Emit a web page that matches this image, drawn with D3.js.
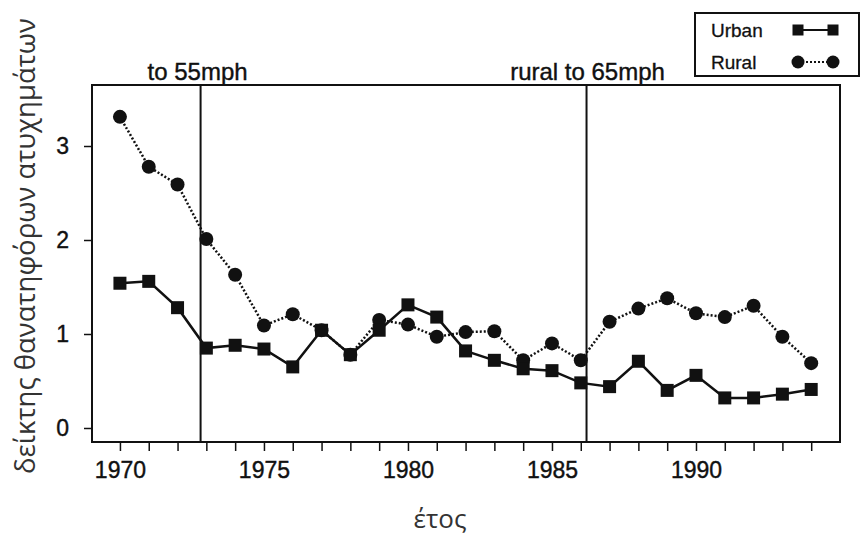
<!DOCTYPE html>
<html>
<head>
<meta charset="utf-8">
<script src="https://cdnjs.cloudflare.com/ajax/libs/d3/7.8.5/d3.min.js"></script>
<style>
  html, body { margin: 0; padding: 0; background: #fff; }
  svg { display: block; }
</style>
</head>
<body>
<svg id="chart" width="861" height="536"></svg>
<script>
const years = [1970,1971,1972,1973,1974,1975,1976,1977,1978,1979,1980,1981,1982,1983,1984,1985,1986,1987,1988,1989,1990,1991,1992,1993,1994];
const urban = [1.54,1.56,1.28,0.85,0.88,0.84,0.65,1.04,0.78,1.04,1.31,1.18,0.82,0.72,0.63,0.61,0.48,0.44,0.71,0.40,0.56,0.32,0.32,0.36,0.41];
const rural = [3.31,2.78,2.59,2.01,1.63,1.09,1.21,1.04,0.78,1.15,1.10,0.97,1.02,1.03,0.72,0.90,0.72,1.13,1.27,1.38,1.22,1.18,1.30,0.97,0.69];
const yTicks = [0,1,2,3];
const xTickLabels = [1970,1975,1980,1985,1990];
const interventions = [{year:1972.8, label:"to 55mph"},{year:1986.2, label:"rural to 65mph"}];
const seriesNames = ["Urban","Rural"];
const xTitle = "έτος";
const yTitle = "δείκτης θανατηφόρων ατυχημάτων";

const svg = d3.select("#chart");
const pLeft = 92, pRight = 840, pTop = 85, pBottom = 442;
const x = d3.scaleLinear().domain([1969.03, 1995.0]).range([pLeft, pRight]);
const y = d3.scaleLinear().domain([-0.149, 3.649]).range([pBottom, pTop]);
const font = "'Liberation Sans', Arial, sans-serif";

// Frame
svg.append("rect").attr("x", pLeft).attr("y", pTop).attr("width", pRight-pLeft).attr("height", pBottom-pTop)
  .attr("fill","none").attr("stroke","#111").attr("stroke-width",2);

// X axis (minor ticks every year, labels every 5)
const xAxis = d3.axisBottom(x).tickValues(years).tickSize(9).tickPadding(11)
  .tickFormat(d => xTickLabels.includes(d) ? String(d) : "");
const gx = svg.append("g").attr("transform", `translate(0,${pBottom})`).call(xAxis);
gx.select(".domain").remove();
gx.selectAll(".tick line").attr("stroke","#111").attr("stroke-width",1.5);
gx.selectAll(".tick text").attr("font-family",font).attr("font-size",23).attr("fill","#111")
  .attr("stroke","#111").attr("stroke-width",0.4);

// Y axis
const yAxis = d3.axisLeft(y).tickValues(yTicks).tickSize(8).tickPadding(15).tickFormat(d3.format("d"));
const gy = svg.append("g").attr("transform", `translate(${pLeft},0)`).call(yAxis);
gy.select(".domain").remove();
gy.selectAll(".tick line").attr("stroke","#111").attr("stroke-width",1.5);
gy.selectAll(".tick text").attr("font-family",font).attr("font-size",23).attr("fill","#111")
  .attr("stroke","#111").attr("stroke-width",0.4);

// Intervention lines
interventions.forEach((iv, i) => {
  svg.append("line").attr("x1", x(iv.year)).attr("x2", x(iv.year)).attr("y1", pTop).attr("y2", pBottom)
    .attr("stroke","#111").attr("stroke-width",2);
  svg.append("text").attr("x", x(iv.year) + (i===0 ? -3 : 1)).attr("y", pTop - 5)
    .attr("text-anchor","middle").attr("font-family",font).attr("font-size",24).attr("fill","#111")
    .attr("stroke","#111").attr("stroke-width",0.4)
    .text(iv.label);
});

const line = d3.line().x(d => x(d[0])).y(d => y(d[1]));
const urbanData = years.map((yr,i) => [yr, urban[i]]);
const ruralData = years.map((yr,i) => [yr, rural[i]]);

svg.append("path").attr("d", line(ruralData)).attr("fill","none").attr("stroke","#111")
  .attr("stroke-width",2.5).attr("stroke-dasharray","2,2");
svg.append("path").attr("d", line(urbanData)).attr("fill","none").attr("stroke","#111").attr("stroke-width",2.5);

svg.append("g").selectAll("circle").data(ruralData).join("circle")
  .attr("cx", d => x(d[0])).attr("cy", d => y(d[1])).attr("r", 7).attr("fill","#111");
svg.append("g").selectAll("rect").data(urbanData).join("rect")
  .attr("x", d => x(d[0]) - 6.5).attr("y", d => y(d[1]) - 6.5).attr("width", 13).attr("height", 13).attr("fill","#111");

// Legend
const lg = svg.append("g");
lg.append("rect").attr("x", 695).attr("y", 13).attr("width", 164).attr("height", 63)
  .attr("fill","#fff").attr("stroke","#111").attr("stroke-width",2);
const lx1 = 798, lx2 = 833;
[30, 62].forEach((ly, i) => {
  lg.append("text").attr("x", 711).attr("y", ly + 7).attr("font-family",font).attr("font-size",19).attr("fill","#111")
    .attr("stroke","#111").attr("stroke-width",0.3).text(seriesNames[i]);
  lg.append("line").attr("x1", lx1).attr("x2", lx2).attr("y1", ly).attr("y2", ly).attr("stroke","#111")
    .attr("stroke-width", 2).attr("stroke-dasharray", i===1 ? "2,2" : null);
  if (i===0) {
    [lx1,lx2].forEach(cx => lg.append("rect").attr("x", cx-5.5).attr("y", ly-5.5).attr("width",11).attr("height",11).attr("fill","#111"));
  } else {
    [lx1,lx2].forEach(cx => lg.append("circle").attr("cx", cx).attr("cy", ly).attr("r",6.5).attr("fill","#111"));
  }
});

// Axis titles
svg.append("text").attr("x", 440).attr("y", 528).attr("text-anchor","middle")
  .attr("font-family","'Open Sans', 'Noto Sans', sans-serif").attr("font-size",26).attr("fill","#333").text(xTitle);
svg.append("text").attr("transform","translate(35,246) rotate(-90)").attr("text-anchor","middle")
  .attr("font-family","'Open Sans', 'Noto Sans', sans-serif").attr("font-size",27.5).attr("fill","#333").text(yTitle);
</script>
</body>
</html>
